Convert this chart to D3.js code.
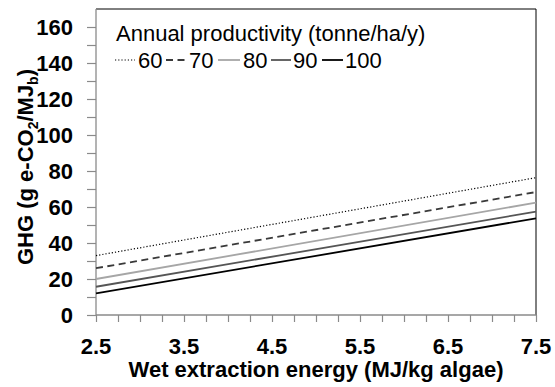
<!DOCTYPE html>
<html>
<head>
<meta charset="utf-8">
<script src="https://cdn.jsdelivr.net/npm/d3@7"></script>
<style>
  html, body { margin: 0; padding: 0; background: #fff; }
  svg { display: block; font-family: "Liberation Sans", Arial, sans-serif; }
</style>
</head>
<body>
<svg id="chart" width="555" height="387"></svg>
<script>
// Wet extraction energy (MJ/kg algae)
const extractionEnergy = [2.5, 7.5];

// GHG (g e-CO2/MJb) for each annual productivity (tonne/ha/y)
const productivityLabels = ["60", "70", "80", "90", "100"];
const ghg60 = [33.0, 76.3];
const ghg70 = [26.0, 68.3];
const ghg80 = [20.0, 62.4];
const ghg90 = [15.7, 57.4];
const ghg100 = [12.0, 53.7];

const xTickLabels = ["2.5", "3.5", "4.5", "5.5", "6.5", "7.5"];
const yTickLabels = ["0", "20", "40", "60", "80", "100", "120", "140", "160"];

const seriesValues = [ghg60, ghg70, ghg80, ghg90, ghg100];
const seriesStyle = [
  { color: "#000000", width: 1.2, dash: "1.2,2" },
  { color: "#3a3a3a", width: 1.8, dash: "7,4.5" },
  { color: "#a6a6a6", width: 1.8, dash: null },
  { color: "#555555", width: 1.8, dash: null },
  { color: "#000000", width: 1.8, dash: null }
];

const svg = d3.select("#chart");
const plot = { left: 96, right: 536, top: 9, bottom: 315 };

const x = d3.scaleLinear().domain([2.5, 7.5]).range([plot.left, plot.right]);
const y = d3.scaleLinear().domain([0, 170]).range([plot.bottom, plot.top]);

function label(px, py, str, size, weight, anchor) {
  return svg.append("text")
    .attr("x", px).attr("y", py)
    .attr("text-anchor", anchor)
    .attr("font-size", size)
    .attr("font-weight", weight)
    .attr("fill", "#000")
    .text(str);
}

// frame: top and right edges
svg.append("path")
  .attr("d", `M${plot.left},${plot.top}H${plot.right}V${plot.bottom}`)
  .attr("fill", "none").attr("stroke", "#000").attr("stroke-width", 1);

// y axis (ticks every 10, labels every 20)
const yAxis = d3.axisLeft(y)
  .tickValues(d3.range(0, 170, 10))
  .tickSize(9)
  .tickFormat("");
const gy = svg.append("g").attr("transform", `translate(${plot.left},0)`).call(yAxis);
gy.select(".domain").attr("stroke", "#8a8a8a").attr("stroke-width", 1.3)
  .attr("d", `M0,${plot.bottom}V${plot.top}`);
gy.selectAll(".tick line").attr("stroke", "#8a8a8a").attr("stroke-width", 1.2);

yTickLabels.forEach(t => {
  label(73, y(+t) + 8, t, 22, "bold", "end");
});

// x axis (ticks every 0.25, labels every 1.0)
const xAxis = d3.axisBottom(x)
  .tickValues(d3.range(0, 21).map(i => 2.5 + i * 0.25))
  .tickSize(7)
  .tickFormat("");
const gx = svg.append("g").attr("transform", `translate(0,${plot.bottom})`).call(xAxis);
gx.select(".domain").attr("stroke", "#8a8a8a").attr("stroke-width", 1.3)
  .attr("d", `M${plot.left},0H${plot.right}`);
gx.selectAll(".tick line").attr("stroke", "#8a8a8a").attr("stroke-width", 1.2);

xTickLabels.forEach(t => {
  label(x(+t), 354, t, 22, "bold", "middle");
});

// axis titles
label((plot.left + plot.right) / 2, 377, "Wet extraction energy (MJ/kg algae)", 22, "bold", "middle");

const yTitle = svg.append("text")
  .attr("transform", `translate(33,167) rotate(-90)`)
  .attr("text-anchor", "middle")
  .attr("font-size", 22)
  .attr("font-weight", "bold");
yTitle.append("tspan").text("GHG (g e-CO");
yTitle.append("tspan").attr("font-size", 14).attr("dy", 5).text("2");
yTitle.append("tspan").attr("dy", -5).text("/MJ");
yTitle.append("tspan").attr("font-size", 14).attr("dy", 5).text("b");
yTitle.append("tspan").attr("dy", -5).text(")");

// lines
const line = d3.line()
  .x((d, i) => x(extractionEnergy[i]))
  .y(d => y(d));

seriesValues.forEach((vals, k) => {
  const s = seriesStyle[k];
  svg.append("path")
    .datum(vals)
    .attr("d", line)
    .attr("fill", "none")
    .attr("stroke", s.color)
    .attr("stroke-width", s.width)
    .attr("stroke-dasharray", s.dash);
});

// legend
label(116, 41, "Annual productivity (tonne/ha/y)", 22, "normal", "start");

const legendItems = [
  { x0: 115, x1: 135, tx: 138 },
  { x0: 166, x1: 186, tx: 189 },
  { x0: 218, x1: 240, tx: 243 },
  { x0: 271, x1: 291, tx: 293 },
  { x0: 322, x1: 343, tx: 345 }
];
legendItems.forEach((it, k) => {
  const s = seriesStyle[k];
  svg.append("line")
    .attr("x1", it.x0).attr("x2", it.x1)
    .attr("y1", 60).attr("y2", 60)
    .attr("stroke", s.color)
    .attr("stroke-width", s.width)
    .attr("stroke-dasharray", s.dash);
  label(it.tx, 68, productivityLabels[k], 22, "normal", "start");
});
</script>
</body>
</html>
